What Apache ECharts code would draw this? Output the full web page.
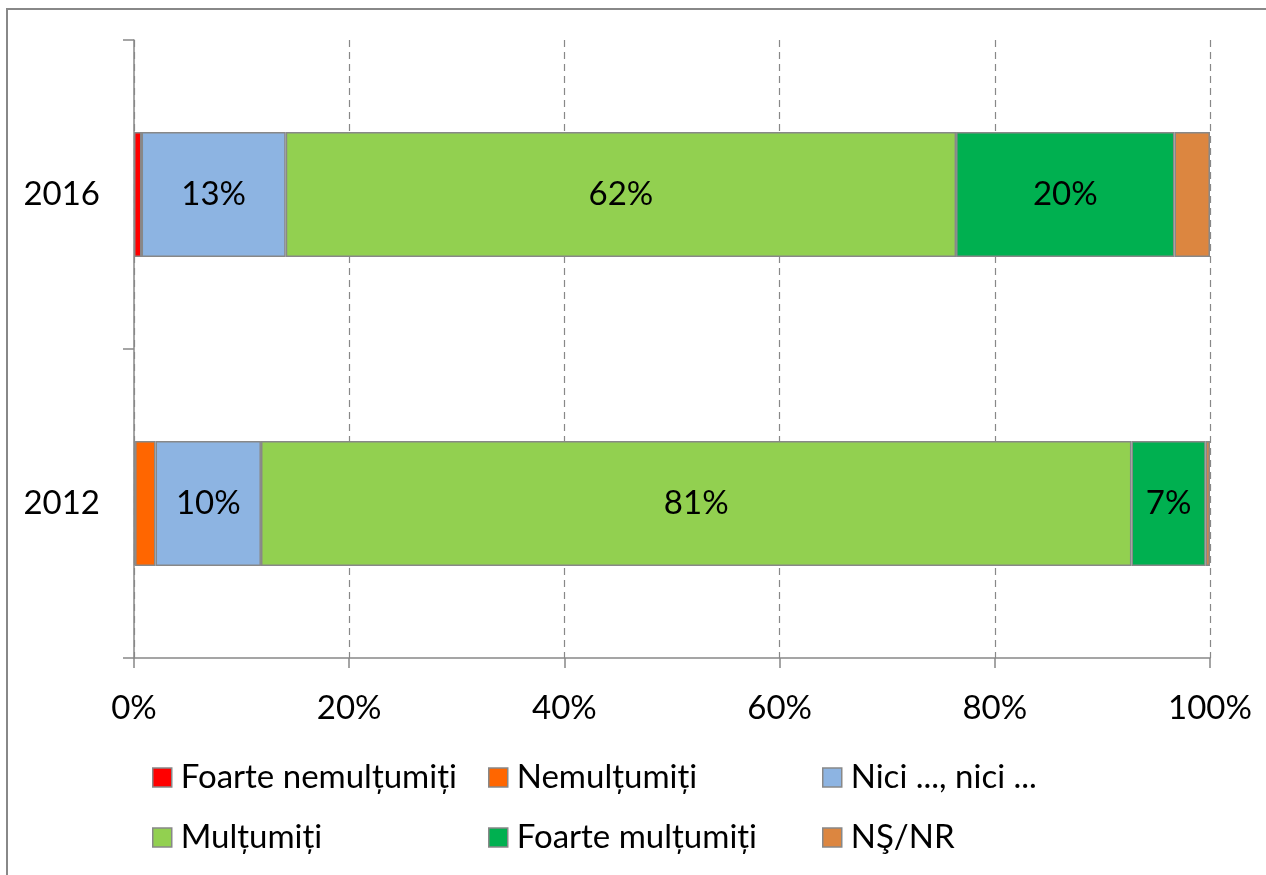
<!DOCTYPE html>
<html>
<head>
<meta charset="utf-8">
<script src="https://cdn.jsdelivr.net/npm/echarts@6/dist/echarts.min.js"></script>
<style>
  html, body { margin: 0; padding: 0; background: #fff; }
  #chart { width: 1266px; height: 875px; }
</style>
</head>
<body>
<div id="chart"></div>
<script>
// years, bottom to top
const years = ['2012', '2016']

const seriesNames = ['Foarte nemulțumiți', 'Nemulțumiți', 'Nici ..., nici ...', 'Mulțumiți', 'Foarte mulțumiți', 'NŞ/NR']
const seriesColors = ['#FF0000', '#FF6600', '#8DB4E2', '#92D050', '#00B050', '#DC8640']

// shares in %, [2012, 2016]
const foarteNemultumiti = [0.1, 0.7]
const nemultumiti = [1.9, 0]
const niciNici = [9.8, 13.4]
const multumiti = [80.9, 62.3]
const foarteMultumiti = [6.9, 20.3]
const nsnr = [0.4, 3.3]

const values = [foarteNemultumiti, nemultumiti, niciNici, multumiti, foarteMultumiti, nsnr]
const labelled = [false, false, true, true, true, false]

const xTicks = [0, 20, 40, 60, 80, 100]

const font = 'Lato, "Open Sans", sans-serif'
const fs = 33

const chart = echarts.init(document.getElementById('chart'))

// legend laid out in a 3x2 grid, one legend per item
const legendLeft = [152, 488, 822]
const legendTop = [761, 821]
const legends = seriesNames.map((name, i) => ({
  data: [name],
  left: legendLeft[i % 3],
  top: legendTop[Math.floor(i / 3)],
  icon: 'rect',
  itemWidth: 19,
  itemHeight: 19,
  itemGap: 0,
  padding: 0,
  selectedMode: false,
  itemStyle: { borderColor: '#888', borderWidth: 1.5 },
  textStyle: { fontSize: fs, color: '#000', fontFamily: font, padding: [0, 0, 0, 4] }
}))

chart.setOption({
  animation: false,
  textStyle: { fontFamily: font },
  graphic: [{
    type: 'rect',
    shape: { x: 7, y: 9, width: 1400, height: 1000 },
    style: { fill: 'none', stroke: '#888', lineWidth: 2 }
  }],
  grid: { left: 134, right: 56, top: 40, bottom: 217 },
  legend: legends,
  xAxis: {
    type: 'value',
    min: 0,
    max: 100,
    interval: 20,
    axisLine: { show: true, lineStyle: { color: '#888', width: 1.5 } },
    axisTick: { show: true, length: 10, lineStyle: { color: '#888', width: 1.5 } },
    splitLine: { show: true, lineStyle: { color: '#888', type: [7, 5], width: 1.2 } },
    axisLabel: {
      fontSize: fs, color: '#000', margin: 34,
      formatter: v => xTicks.includes(v) ? v + '%' : ''
    }
  },
  yAxis: {
    type: 'category',
    data: years,
    axisLine: { show: true, lineStyle: { color: '#888', width: 1.5 } },
    axisTick: { show: true, length: 11, lineStyle: { color: '#888', width: 1.5 } },
    axisLabel: { fontSize: fs, color: '#000', margin: 34 }
  },
  series: seriesNames.map((name, i) => ({
    name,
    type: 'bar',
    stack: 'total',
    barWidth: 125,
    data: values[i],
    itemStyle: { color: seriesColors[i], borderColor: '#888', borderWidth: 1.5 },
    label: {
      show: labelled[i],
      position: 'inside',
      fontSize: fs,
      color: '#000',
      fontFamily: font,
      formatter: p => Math.round(p.value) + '%'
    }
  }))
})
</script>
</body>
</html>
